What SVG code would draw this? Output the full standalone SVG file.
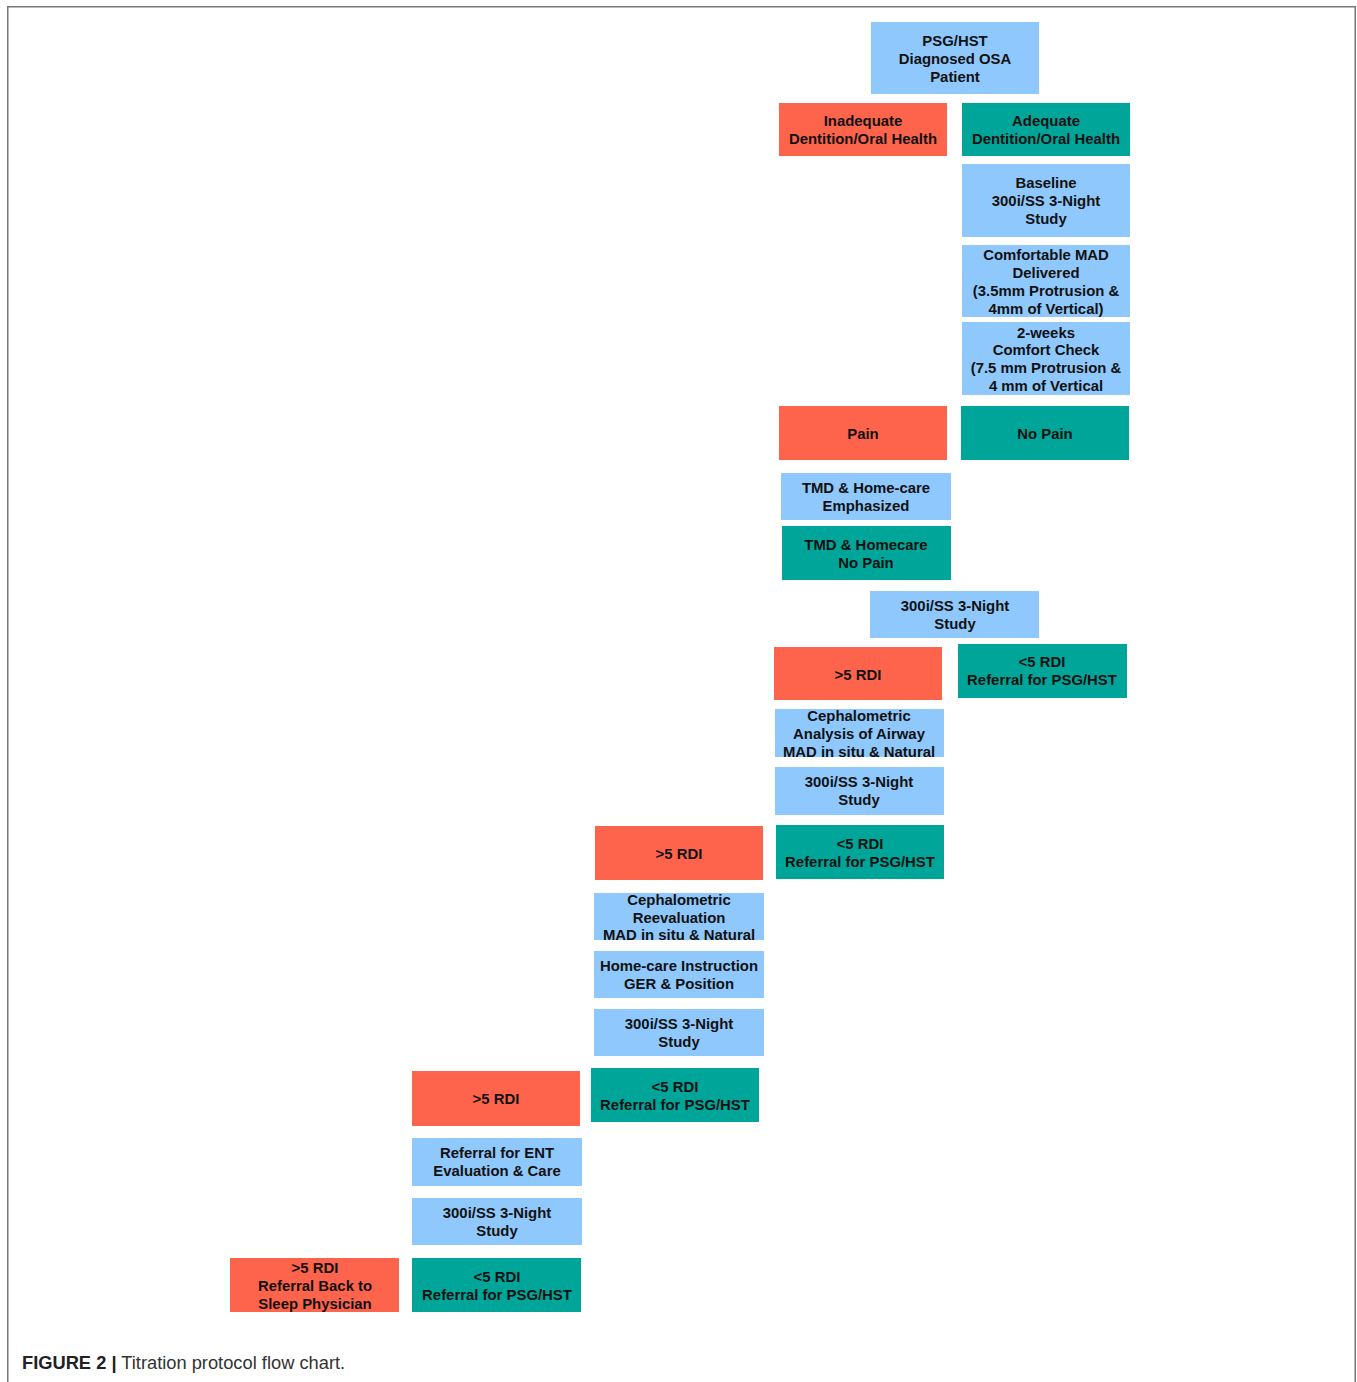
<svg xmlns="http://www.w3.org/2000/svg" width="1357" height="1382" viewBox="0 0 1357 1382">
<style>
.b{fill:#8ec8fc}
.r{fill:#fe644c}
.t{fill:#00a599}
text{font-family:"Liberation Sans",Arial,Helvetica,sans-serif;font-weight:bold;font-size:14.9px;fill:#111;text-anchor:middle}
.cap{text-anchor:start;font-size:18.3px;fill:#333;font-weight:normal}
.capb{font-weight:bold;fill:#222}
.frame{fill:none;stroke:#777;stroke-width:1.5}
</style>
<rect width="1357" height="1382" fill="#fff"/>
<path class="frame" d="M7.75 1382 V6.75 H1355.25 V1382"/>
<g id="connectors"></g>
<g id="n1"><rect class="b" x="871" y="22" width="168" height="72"/><text x="955"><tspan x="955" y="46">PSG/HST</tspan><tspan x="955" y="64">Diagnosed OSA</tspan><tspan x="955" y="82">Patient</tspan></text></g>
<g id="n2"><rect class="r" x="779" y="103" width="168" height="53"/><text><tspan x="863" y="126">Inadequate</tspan><tspan x="863" y="144">Dentition/Oral Health</tspan></text></g>
<g id="n3"><rect class="t" x="962" y="103" width="168" height="53"/><text><tspan x="1046" y="126">Adequate</tspan><tspan x="1046" y="144">Dentition/Oral Health</tspan></text></g>
<g id="n4"><rect class="b" x="962" y="164" width="168" height="73"/><text><tspan x="1046" y="188">Baseline</tspan><tspan x="1046" y="206">300i/SS 3-Night</tspan><tspan x="1046" y="224">Study</tspan></text></g>
<g id="n5"><rect class="b" x="962" y="245" width="168" height="72"/><text><tspan x="1046" y="260">Comfortable MAD</tspan><tspan x="1046" y="278">Delivered</tspan><tspan x="1046" y="296">(3.5mm Protrusion &amp;</tspan><tspan x="1046" y="314">4mm of Vertical)</tspan></text></g>
<g id="n6"><rect class="b" x="962" y="322" width="168" height="73"/><text><tspan x="1046" y="338">2-weeks</tspan><tspan x="1046" y="355">Comfort Check</tspan><tspan x="1046" y="373">(7.5 mm Protrusion &amp;</tspan><tspan x="1046" y="391">4 mm of Vertical</tspan></text></g>
<g id="n7"><rect class="r" x="779" y="406" width="168" height="54"/><text><tspan x="863" y="439">Pain</tspan></text></g>
<g id="n8"><rect class="t" x="961" y="406" width="168" height="54"/><text><tspan x="1045" y="439">No Pain</tspan></text></g>
<g id="n9"><rect class="b" x="781" y="473" width="170" height="47"/><text><tspan x="866" y="493">TMD &amp; Home-care</tspan><tspan x="866" y="511">Emphasized</tspan></text></g>
<g id="n10"><rect class="t" x="782" y="526" width="169" height="54"/><text><tspan x="866" y="550">TMD &amp; Homecare</tspan><tspan x="866" y="568">No Pain</tspan></text></g>
<g id="n11"><rect class="b" x="870" y="591" width="169" height="47"/><text><tspan x="955" y="611">300i/SS 3-Night</tspan><tspan x="955" y="629">Study</tspan></text></g>
<g id="n12"><rect class="r" x="774" y="647" width="168" height="53"/><text><tspan x="858" y="680">&gt;5 RDI</tspan></text></g>
<g id="n13"><rect class="t" x="958" y="644" width="169" height="54"/><text><tspan x="1042" y="667">&lt;5 RDI</tspan><tspan x="1042" y="685">Referral for PSG/HST</tspan></text></g>
<g id="n14"><rect class="b" x="775" y="709" width="169" height="48"/><text><tspan x="859" y="721">Cephalometric</tspan><tspan x="859" y="739">Analysis of Airway</tspan><tspan x="859" y="757">MAD in situ &amp; Natural</tspan></text></g>
<g id="n15"><rect class="b" x="775" y="767" width="169" height="48"/><text><tspan x="859" y="787">300i/SS 3-Night</tspan><tspan x="859" y="805">Study</tspan></text></g>
<g id="n16"><rect class="t" x="776" y="825" width="168" height="54"/><text><tspan x="860" y="849">&lt;5 RDI</tspan><tspan x="860" y="867">Referral for PSG/HST</tspan></text></g>
<g id="n17"><rect class="r" x="595" y="826" width="168" height="54"/><text><tspan x="679" y="859">&gt;5 RDI</tspan></text></g>
<g id="n18"><rect class="b" x="594" y="893" width="170" height="47"/><text><tspan x="679" y="905">Cephalometric</tspan><tspan x="679" y="923">Reevaluation</tspan><tspan x="679" y="940">MAD in situ &amp; Natural</tspan></text></g>
<g id="n19"><rect class="b" x="594" y="951" width="170" height="47"/><text><tspan x="679" y="971">Home-care Instruction</tspan><tspan x="679" y="989">GER &amp; Position</tspan></text></g>
<g id="n20"><rect class="b" x="594" y="1009" width="170" height="47"/><text><tspan x="679" y="1029">300i/SS 3-Night</tspan><tspan x="679" y="1047">Study</tspan></text></g>
<g id="n21"><rect class="r" x="412" y="1071" width="168" height="55"/><text><tspan x="496" y="1104">&gt;5 RDI</tspan></text></g>
<g id="n22"><rect class="t" x="591" y="1068" width="168" height="54"/><text><tspan x="675" y="1092">&lt;5 RDI</tspan><tspan x="675" y="1110">Referral for PSG/HST</tspan></text></g>
<g id="n23"><rect class="b" x="412" y="1138" width="170" height="48"/><text><tspan x="497" y="1158">Referral for ENT</tspan><tspan x="497" y="1176">Evaluation &amp; Care</tspan></text></g>
<g id="n24"><rect class="b" x="412" y="1198" width="170" height="47"/><text><tspan x="497" y="1218">300i/SS 3-Night</tspan><tspan x="497" y="1236">Study</tspan></text></g>
<g id="n25"><rect class="r" x="230" y="1258" width="169" height="54"/><text><tspan x="315" y="1273">&gt;5 RDI</tspan><tspan x="315" y="1291">Referral Back to</tspan><tspan x="315" y="1309">Sleep Physician</tspan></text></g>
<g id="n26"><rect class="t" x="412" y="1258" width="169" height="54"/><text><tspan x="497" y="1282">&lt;5 RDI</tspan><tspan x="497" y="1300">Referral for PSG/HST</tspan></text></g>
<text class="cap" x="22" y="1369"><tspan class="capb">FIGURE 2 |</tspan> Titration protocol flow chart.</text>
</svg>
